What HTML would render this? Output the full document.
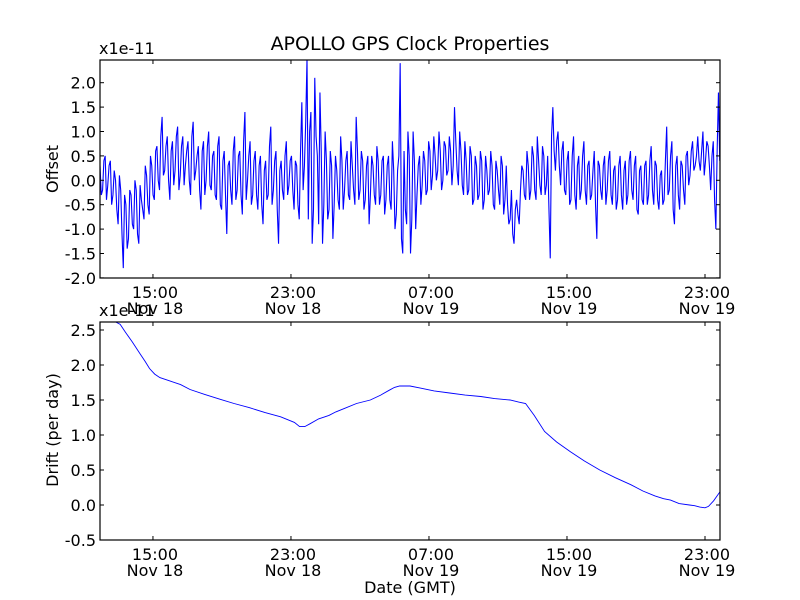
<!DOCTYPE html>
<html><head><meta charset="utf-8"><style>
body{margin:0;background:#fff}
svg{display:block;font-family:"DejaVu Sans","Liberation Sans",sans-serif}
</style></head><body>
<svg id="c" width="800" height="600" viewBox="0 0 800 600">
<rect width="800" height="600" fill="#fff"/>
<text x="410" y="50" font-size="19" text-anchor="middle">APOLLO GPS Clock Properties</text>
</svg>
<script>
const xTickHours=[15,23,31,39,47];
const xTickTimes=["15:00","23:00","07:00","15:00","23:00"];
const xTickDates=["Nov 18","Nov 18","Nov 19","Nov 19","Nov 19"];
const offsetTicks=[-2.0,-1.5,-1.0,-0.5,0.0,0.5,1.0,1.5,2.0];
const driftTicks=[-0.5,0.0,0.5,1.0,1.5,2.0,2.5];
const offsetStart=11.93;
const offsetStep=0.15;
const offsetValues=[0.3,-0.2,0.5,-0.1,0.4,-0.3,0.0,-0.9,-0.2,-1.8,
-0.5,-1.2,-0.3,-1.0,-0.2,-1.3,-0.4,-0.8,0.1,-0.7,
0.3,-0.4,0.7,-0.2,1.3,0.2,0.9,-0.4,0.8,0.2,
1.1,0.1,0.9,0.3,0.8,-0.3,1.2,0.2,0.7,-0.6,
0.8,0.0,1.0,-0.2,0.6,-0.4,0.9,-0.6,0.6,-1.1,
0.4,-0.5,0.9,-0.2,0.6,-0.7,1.4,0.0,0.8,-0.3,
0.6,-0.6,0.5,-0.9,0.4,-0.3,1.1,-0.2,0.6,-1.3,
0.4,-0.4,0.8,-0.1,0.5,-0.6,0.3,-0.8,1.6,0.3,
2.5,1.0,-1.3,2.1,0.5,1.8,-1.3,1.0,-0.8,0.6,
-1.2,0.5,-0.4,0.9,-0.6,0.4,-0.3,0.8,-0.2,1.3,
-0.4,0.6,-0.6,0.3,-0.9,0.5,-0.3,0.7,-0.5,0.4,
-0.7,0.3,-0.4,0.8,-1.0,0.2,2.4,-1.5,-0.6,1.0,
-1.5,1.0,-1.0,0.3,-0.5,0.6,-0.3,0.8,-0.2,0.9,
0.0,1.0,-0.2,0.8,0.1,0.9,-0.1,1.5,0.2,1.0,
-0.1,0.8,-0.3,0.7,-0.5,0.5,-0.4,0.6,-0.6,0.5,
-0.3,0.6,-0.5,0.4,-0.2,0.5,-0.7,0.3,-0.9,-0.2,
-1.3,-0.4,-0.9,0.3,-0.3,0.6,-0.4,0.7,-0.2,0.9,
-0.1,0.7,-0.3,0.5,-1.6,1.5,0.2,1.0,-0.1,0.8,
-0.3,0.6,-0.4,0.9,-0.6,0.5,-0.2,0.8,-0.5,0.4,
-0.3,0.6,-1.2,0.3,-0.4,0.5,-0.2,0.6,-0.5,0.3,
-0.4,0.5,-0.6,0.4,-0.3,0.6,-0.4,0.5,-0.7,0.3,
-0.5,0.4,-0.3,0.7,-0.5,0.3,-0.6,0.2,-0.4,1.1,
-0.2,0.8,-0.9,0.5,-0.6,0.3,-0.5,0.6,0.1,0.8,
0.3,0.9,0.2,1.0,0.4,0.7,-0.2,0.8,-1.0,1.8];
const offsetValuesMid=[-0.3,0.4,-0.4,0.3,-0.5,0.2,-0.6,0.1,-1.1,-0.3,
-1.4,-0.2,-0.9,0.0,-1.1,-0.1,-0.6,0.3,-0.5,0.5,
-0.3,0.6,0.0,0.9,0.1,0.7,0.0,0.6,-0.1,0.9,
-0.2,0.7,-0.1,0.6,0.0,0.9,0.0,0.5,-0.2,0.6,
-0.3,0.7,-0.1,0.5,-0.3,0.7,-0.5,0.4,-0.3,0.3,
-0.2,0.6,-0.4,0.5,-0.3,0.8,-0.4,0.5,-0.5,0.4,
-0.3,0.3,-0.5,0.2,-0.4,0.7,-0.5,0.4,-0.6,0.2,
-0.2,0.5,-0.3,0.4,-0.2,0.4,-0.5,0.6,-0.2,1.2,
-0.8,1.4,-0.6,0.9,-0.9,0.6,-0.5,0.4,-0.6,0.3,
-0.5,0.2,-0.6,0.4,-0.2,0.6,-0.4,0.3,-0.5,0.6,
-0.2,0.4,-0.4,0.5,-0.3,0.3,-0.5,0.4,-0.3,0.5,
-0.4,0.5,-0.6,0.2,-0.7,0.5,-1.2,0.6,-0.9,0.5,
-0.8,0.4,-0.3,0.5,-0.1,0.4,-0.2,0.6,0.1,0.5,
0.2,0.6,0.0,0.7,0.2,0.6,0.3,0.8,-0.1,0.6,
-0.3,0.4,-0.2,0.5,-0.4,0.3,-0.3,0.4,-0.4,0.2,
-0.2,0.3,-0.6,0.2,-0.5,0.3,-0.4,-0.5,-0.8,-1.1,
-0.6,-0.7,-0.2,0.2,-0.4,0.3,-0.2,0.5,-0.4,0.4,
-0.3,0.5,-0.1,-0.6,0.9,0.6,0.8,0.3,0.6,-0.2,
0.4,-0.5,0.5,-0.3,0.3,-0.4,0.5,-0.2,0.3,-0.4,
0.2,-0.5,0.4,-0.2,0.3,-0.5,0.4,-0.3,0.2,-0.6,
0.3,-0.3,0.2,-0.5,0.4,-0.2,0.3,-0.6,0.2,-0.4,
0.3,-0.5,0.4,-0.2,0.4,-0.4,0.1,-0.5,0.4,-0.3,
0.5,-0.6,0.3,-0.3,0.4,-0.2,0.5,-0.1,0.6,0.2,
0.5,0.4,0.6,0.1,0.8,0.3,0.5,-0.4,0.6,0.4];
const driftHours=[11.93,12.3,12.8,13.1,13.4,13.8,14.25,14.55,14.8,15.1,15.4,16.0,16.6,17.15,18.0,18.9,19.7,20.6,21.5,22.4,22.9,23.2,23.5,23.8,24.1,24.6,25.2,25.6,26.1,26.8,27.6,28.2,28.7,29.0,29.3,29.9,30.5,31.3,32.2,33.1,34.0,34.8,35.7,36.2,36.6,37.1,37.7,38.4,39.2,40.0,40.9,41.8,42.7,43.4,44.1,44.6,45.0,45.5,46.1,46.4,46.7,47.0,47.2,47.5,47.9];
const driftValues=[2.62,2.62,2.62,2.58,2.47,2.33,2.16,2.05,1.95,1.87,1.82,1.77,1.72,1.65,1.58,1.51,1.45,1.39,1.32,1.26,1.21,1.18,1.12,1.12,1.16,1.23,1.28,1.33,1.38,1.45,1.50,1.57,1.64,1.68,1.70,1.70,1.67,1.63,1.60,1.57,1.55,1.52,1.50,1.47,1.45,1.28,1.05,0.90,0.76,0.63,0.50,0.39,0.29,0.20,0.13,0.09,0.07,0.02,0.00,-0.01,-0.03,-0.04,-0.02,0.06,0.20];

const svg=document.getElementById('c');
const NS='http://www.w3.org/2000/svg';
const L=100,R=720,T0=60,B0=278,T1=322,B1=540;
const X0=11.93,X1=47.87;
const xs=h=>L+(h-X0)/(X1-X0)*(R-L);
const ys0=v=>180.3-v*48.8;
const ys1=v=>505-v*70;
function mk(tag,attrs,txt){const e=document.createElementNS(NS,tag);for(const k in attrs)e.setAttribute(k,attrs[k]);if(txt!==undefined)e.textContent=txt;svg.appendChild(e);return e;}

function panel(top,bot,ticks,ys,name,ylab,ylabY,series){
  const clip=mk('clipPath',{id:'clip-'+name});
  const cr=document.createElementNS(NS,'rect');cr.setAttribute('x',L);cr.setAttribute('y',top);cr.setAttribute('width',R-L);cr.setAttribute('height',bot-top);clip.appendChild(cr);
  const p=mk('path',{d:series,fill:'none',stroke:'#0000ff','stroke-width':name==='offset'?1.1:0.9,'clip-path':'url(#clip-'+name+')'});
  
  
  ticks.forEach(v=>{
    const y=ys(v);
    const t=mk('line',{x1:L,x2:L+4,y1:y,y2:y,stroke:'#000'});
    
    
    mk('line',{x1:R-4,x2:R,y1:y,y2:y,stroke:'#000'});
    const lb=mk('text',{x:96,y:y+6,'font-size':16,'text-anchor':'end'},v.toFixed(1));
    
    
  });
  xTickHours.forEach((h,i)=>{
    const x=xs(h);
    mk('line',{x1:x,x2:x,y1:bot,y2:bot-4,stroke:'#000'});
    mk('line',{x1:x,x2:x,y1:top,y2:top+4,stroke:'#000'});
    const a=mk('text',{x:x+2,y:bot+20,'font-size':16,'text-anchor':'middle'},xTickTimes[i]);
    
    
    const b=mk('text',{x:x+2,y:bot+36,'font-size':16,'text-anchor':'middle'},xTickDates[i]);
    
    
  });
  const fr=mk('rect',{x:L,y:top,width:R-L,height:bot-top,fill:'none',stroke:'#000','stroke-width':1.2});
  
  
  const ex=mk('text',{x:99,y:top-6,'font-size':16},'x1e-11');
  
  
  const yl=mk('text',{x:0,y:0,'font-size':16,'text-anchor':'middle',transform:'translate(58,'+ylabY+') rotate(-90)'},ylab);
  
  
}
let d0='';
offsetValues.forEach((v,i)=>{
  d0+=(i?'L':'M')+xs(offsetStart+i*offsetStep).toFixed(2)+','+ys0(v).toFixed(2);
  if(i<offsetValuesMid.length) d0+='L'+xs(offsetStart+(i+0.5)*offsetStep).toFixed(2)+','+ys0(offsetValuesMid[i]).toFixed(2);
});
let d1='';
driftValues.forEach((v,i)=>{d1+=(i?'L':'M')+xs(driftHours[i]).toFixed(2)+','+ys1(v).toFixed(2);});
panel(T0,B0,offsetTicks,ys0,'offset','Offset',169,d0);
panel(T1,B1,driftTicks,ys1,'drift','Drift (per day)',430,d1);
const xl=mk('text',{x:410,y:593,'font-size':16,'text-anchor':'middle'},'Date (GMT)');


</script>
</body></html>
